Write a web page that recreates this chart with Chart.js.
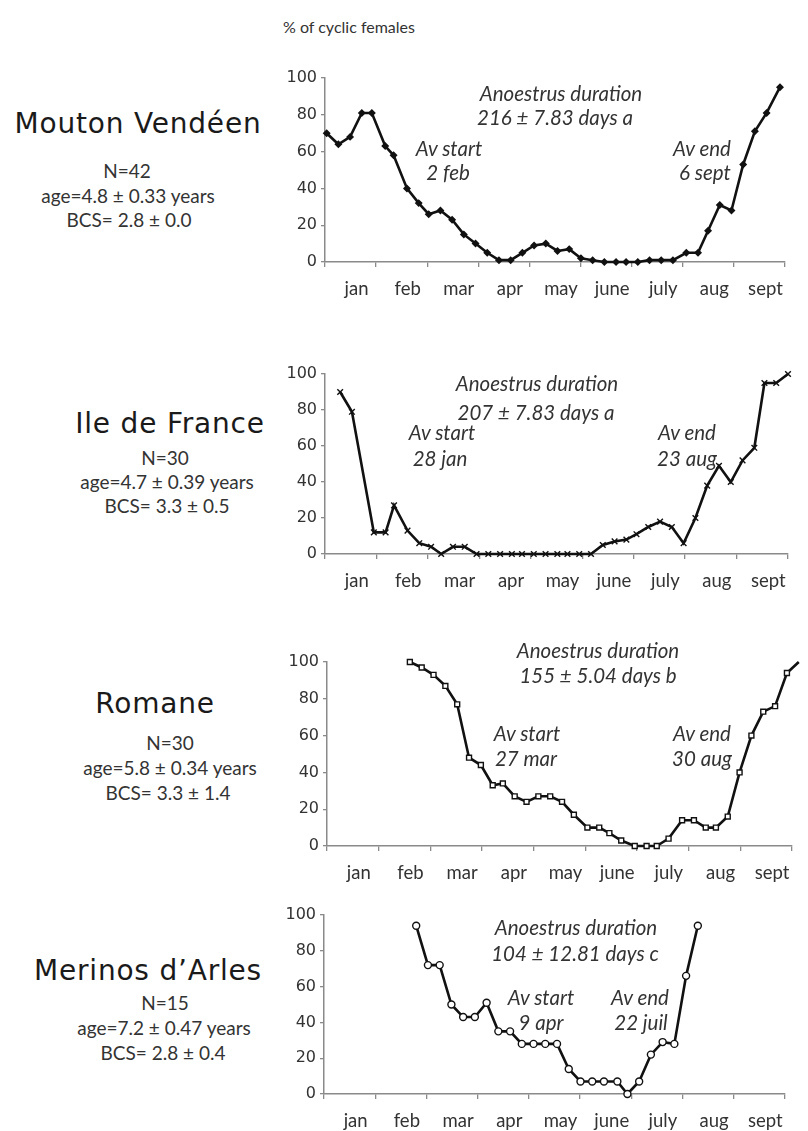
<!DOCTYPE html>
<html>
<head>
<meta charset="UTF-8">
<script src="https://cdn.jsdelivr.net/npm/chart.js@4.4.0/dist/chart.umd.min.js"></script>
<style>
  * { box-sizing: border-box; margin: 0; padding: 0; }
  body { width: 808px; height: 1131px; background: #fff; position: relative; overflow: hidden;
         font-family: Lato, sans-serif; color: #222; }
  .t { position: absolute; white-space: nowrap; transform: translate(-50%, -50%); }
  .breed { font-family: 'DejaVu Sans', sans-serif; font-size: 28px; letter-spacing: 0.8px; color: #1a1a1a; }
  .info { font-size: 19px; color: #333; }
  .note { font-style: italic; font-size: 20.5px; color: #333; }
  .wrap { position: absolute; }
  #ylab { position: absolute; left: 283px; top: 17px; font-size: 16px; color: #333; }
</style>
</head>
<body>
<div id="ylab">% of cyclic females</div>

<script>
// ── data (x = day since 1 jan, y = % cyclic females) ──
const MONTHS = ['jan', 'feb', 'mar', 'apr', 'may', 'june', 'july', 'aug', 'sept']
const Y_TICKS = [0, 20, 40, 60, 80, 100]

const VENDEEN_DAYS = [1, 8, 15, 22, 28, 36, 41, 49, 56, 62, 69, 76, 83, 90, 97, 104, 111, 118, 125, 132,
                      139, 146, 153, 160, 167, 174, 180, 187, 194, 201, 208, 216, 223, 229, 236, 243, 250, 257, 264, 272]
const VENDEEN_PCT  = [70, 64, 68, 81, 81, 63, 58, 40, 32, 26, 28, 23, 15, 10, 5, 1, 1, 5, 9, 10,
                      6, 7, 2, 1, 0, 0, 0, 0, 1, 1, 1, 5, 5, 17, 31, 28, 53, 71, 81, 95]

const IDF_DAYS = [9, 16, 29, 36, 41, 49, 56, 63, 69, 76, 83, 90, 97, 104, 111, 117, 124, 131, 138, 144,
                  151, 158, 165, 172, 179, 185, 192, 199, 206, 213, 220, 227, 234, 241, 248, 255, 261, 268, 275]
const IDF_PCT  = [90, 79, 12, 12, 27, 13, 6, 4, 0, 4, 4, 0, 0, 0, 0, 0, 0, 0, 0, 0,
                  0, 0, 5, 7, 8, 11, 15, 18, 15, 6, 20, 38, 49, 40, 52, 59, 95, 95, 100]

const ROMANE_DAYS = [49, 56, 63, 70, 77, 84, 91, 98, 104, 111, 118, 125, 132, 139, 146, 154, 161, 167, 174, 182,
                     189, 195, 202, 210, 217, 224, 230, 237, 244, 251, 258, 265, 272, 279]
const ROMANE_PCT  = [100, 97, 93, 87, 77, 48, 44, 33, 34, 27, 24, 27, 27, 24, 17, 10, 10, 7, 3, 0,
                     0, 0, 4, 14, 14, 10, 10, 16, 40, 60, 73, 76, 94, 100]

const MERINOS_DAYS = [55, 62, 69, 76, 83, 90, 97, 104, 111, 118, 125, 132, 139, 146, 153, 160, 167, 175, 181, 188,
                      195, 202, 209, 216, 223]
const MERINOS_PCT  = [94, 72, 72, 50, 43, 43, 51, 35, 35, 28, 28, 28, 28, 14, 7, 7, 7, 7, 0, 7,
                      22, 29, 28, 66, 94]

const AXIS_DAYS = 275   // jan → end of sept
const MONTH_LEN = AXIS_DAYS / MONTHS.length

// ── panels: layout (px) + text ────────────────────────────────────────────────
const panels = [
  { days: VENDEEN_DAYS, pct: VENDEEN_PCT, marker: 'rectRot', r: 3, fill: '#111',
    left: 325, right: 785, top: 78, bottom: 262,
    name: ['Mouton Vendéen', 138, 123],
    info: [['N=42', 127, 170], ['age=4.8 ± 0.33 years', 128, 195], ['BCS= 2.8 ± 0.0', 129, 219]],
    notes: [['Anoestrus duration', 561, 93], ['216 ± 7.83 days a', 555, 117],
            ['Av start', 449, 148], ['2 feb', 448, 172], ['Av end', 702, 148], ['6 sept', 705, 172]] },
  { days: IDF_DAYS, pct: IDF_PCT, marker: 'crossRot', r: 4, fill: '#111',
    left: 325, right: 788, top: 374, bottom: 554,
    name: ['Ile de France', 170, 423],
    info: [['N=30', 165, 457], ['age=4.7 ± 0.39 years', 167, 481], ['BCS= 3.3 ± 0.5', 167, 505]],
    notes: [['Anoestrus duration', 537, 383], ['207 ± 7.83 days a', 536, 412],
            ['Av start', 442, 432], ['28 jan', 440, 458], ['Av end', 687, 432], ['23 aug', 687, 458]] },
  { days: ROMANE_DAYS, pct: ROMANE_PCT, marker: 'rect', r: 3.5, fill: '#fff',
    left: 327, right: 792, top: 662, bottom: 846,
    name: ['Romane', 155, 703],
    info: [['N=30', 170, 742], ['age=5.8 ± 0.34 years', 170, 767], ['BCS= 3.3 ± 1.4', 168, 792]],
    notes: [['Anoestrus duration', 598, 650], ['155 ± 5.04 days b', 598, 675],
            ['Av start', 527, 733], ['27 mar', 526, 758], ['Av end', 702, 733], ['30 aug', 702, 758]] },
  { days: MERINOS_DAYS, pct: MERINOS_PCT, marker: 'circle', r: 3.5, fill: '#fff',
    left: 324, right: 785, top: 915, bottom: 1094,
    name: ['Merinos d\u2019Arles', 148, 970],
    info: [['N=15', 165, 1002], ['age=7.2 ± 0.47 years', 164, 1027], ['BCS= 2.8 ± 0.4', 163, 1052]],
    notes: [['Anoestrus duration', 576, 927], ['104 ± 12.81 days c', 575, 953],
            ['Av start', 541, 997], ['9 apr', 541, 1022], ['Av end', 640, 997], ['22 juil', 641, 1022]] },
]

const CANVAS_LEFT = 280
const CANVAS_RIGHT = 808
const PAD_TOP = 20
const X_AXIS_H = 44
const AXIS_GREY = '#8a8a8a'

function addText(cls, [txt, x, y]) {
  const d = document.createElement('div')
  d.className = 't ' + cls
  d.textContent = txt
  d.style.left = x + 'px'
  d.style.top = y + 'px'
  document.body.appendChild(d)
}

panels.forEach(p => {
  const wrap = document.createElement('div')
  wrap.className = 'wrap'
  wrap.style.left = CANVAS_LEFT + 'px'
  wrap.style.top = (p.top - PAD_TOP) + 'px'
  wrap.style.width = (CANVAS_RIGHT - CANVAS_LEFT) + 'px'
  wrap.style.height = (p.bottom - p.top + PAD_TOP + X_AXIS_H) + 'px'
  const cv = document.createElement('canvas')
  wrap.appendChild(cv)
  document.body.appendChild(wrap)

  new Chart(cv, {
    type: 'line',
    data: {
      datasets: [{
        data: p.days.map((d, k) => ({ x: d, y: p.pct[k] })),
        borderColor: '#111', borderWidth: 2.6, tension: 0,
        pointStyle: p.marker, pointRadius: p.r, pointBackgroundColor: p.fill,
        pointBorderColor: '#111', pointBorderWidth: 1.4, clip: false,
      }]
    },
    options: {
      responsive: true, maintainAspectRatio: false, animation: false,
      layout: { padding: { top: PAD_TOP, right: CANVAS_RIGHT - p.right, left: 0, bottom: 0 } },
      plugins: { legend: { display: false }, tooltip: { enabled: false } },
      scales: {
        x: {
          type: 'linear', min: 0, max: AXIS_DAYS,
          afterBuildTicks: s => { s.ticks = MONTHS.map((m, k) => ({ value: (k + 0.5) * MONTH_LEN })) },
          afterFit: s => { s.height = X_AXIS_H },
          ticks: { autoSkip: false, maxRotation: 0, padding: 11, labelOffset: 6, color: '#333',
                   font: { family: 'Lato', size: 18.5 }, callback: (v, k) => MONTHS[k] },
          grid: { offset: true, drawOnChartArea: false, drawTicks: true, tickLength: 5, color: AXIS_GREY, lineWidth: 1.3 },
          border: { color: AXIS_GREY, width: 1.5 },
        },
        y: {
          min: 0, max: 100,
          afterBuildTicks: s => { s.ticks = Y_TICKS.map(v => ({ value: v })) },
          afterFit: s => { s.width = p.left - CANVAS_LEFT },
          ticks: { padding: 4, color: '#333', font: { family: 'DejaVu Sans', size: 16 } },
          grid: { drawOnChartArea: false, drawTicks: true, tickLength: 4, color: AXIS_GREY, lineWidth: 1.3 },
          border: { color: AXIS_GREY, width: 1.5 },
        }
      }
    }
  })

  addText('breed', p.name)
  p.info.forEach(t => addText('info', t))
  p.notes.forEach(t => addText('note', t))
})
</script>
</body>
</html>
